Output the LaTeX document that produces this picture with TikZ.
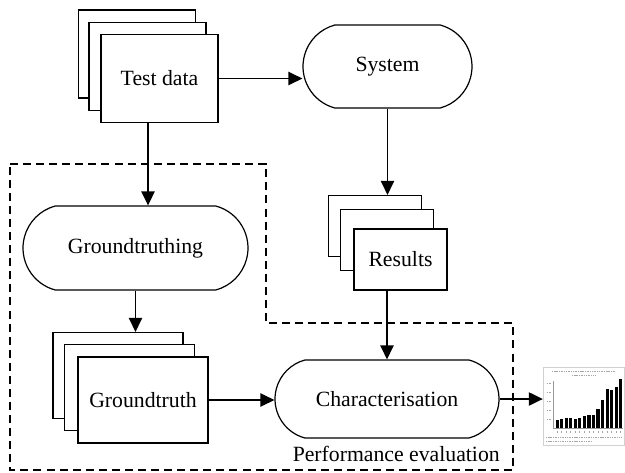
\documentclass[tikz,border=0pt]{standalone}
\usepackage{fontspec}
\setmainfont{Liberation Serif}
\usetikzlibrary{arrows.meta,calc,shapes.misc}

\begin{document}
\begin{tikzpicture}[x=0.75pt,y=-0.75pt,
  every node/.style={font=\fontsize{16.3}{19}\selectfont},
  docbox/.style={draw, fill=white, line width=0.9pt, inner sep=0pt},
  termbox/.style={draw, fill=white, line width=0.9pt, rounded rectangle, rounded rectangle arc length=150, inner sep=0pt},
  arr/.style={line width=0.95pt, -{Triangle[length=10.5pt,width=10pt]}},
  region/.style={line width=1.1pt, dash pattern=on 6pt off 3.8pt},
  ink/.style={gray!70, line width=0.45pt, dash pattern=on 0.8pt off 0.5pt}
]
\useasboundingbox (0,0) rectangle (625,472);

% Performance-evaluation region
\draw[region] (10,164) -- (266,164) -- (266,323) -- (513,323) -- (513,470) -- (10,470) -- cycle;
\node[anchor=base east, inner sep=0pt] (perf) at (500,461) {Performance evaluation};

% Test data stack
\tikzset{tdsize/.style={docbox, minimum width=87.75pt, minimum height=66pt}}
\node[tdsize] (tdA) at (137,54) {};
\node[tdsize] (tdB) at (147.5,66.5) {};
\node[tdsize] (td)  at (159.5,78.5) {Test data};

% System
\node[termbox, minimum width=126.75pt, minimum height=62.25pt] (sys) at (387.5,66.5) {System};

% Results stack
\tikzset{ressize/.style={docbox, minimum width=69.75pt, minimum height=45.75pt}}
\node[ressize] (resA) at (375,226) {};
\node[ressize] (resB) at (387,240) {};
\node[ressize] (res)  at (400.5,259.5) {Results};

% Groundtruthing
\node[termbox, minimum width=168.75pt, minimum height=63pt] (gtg) at (135.5,248) {Groundtruthing};

% Groundtruth stack
\tikzset{gtsize/.style={docbox, minimum width=97.5pt, minimum height=64.5pt}}
\node[gtsize] (gtA) at (118,375.5) {};
\node[gtsize] (gtB) at (129.5,387.5) {};
\node[gtsize] (gt)  at (143,400) {Groundtruth};

% Characterisation
\node[termbox, minimum width=168pt, minimum height=58.5pt] (chr) at (387,399) {Characterisation};

% Output chart thumbnail
\node[draw=gray!35, line width=0.3pt, fill=white, minimum width=60.75pt, minimum height=58.5pt, inner sep=0pt] (chart) at (583.5,406) {};
\begin{scope}
  % title
  \draw[ink] (552,371) -- (615,371);
  \draw[ink] (572,375) -- (595,375);
  % axes
  \draw[gray!80, line width=0.35pt] (553,381) -- (553,428) -- (623,428);
  \foreach \yy in {383,392,401,410,419} {
    \draw[ink] (547,\yy) -- (551,\yy);
  }
  % bars
  \foreach \h [count=\i from 0] in {7.7,9.3,10,10,9,10,12,13.3,13.3,19.3,27.7,38.7,37.7,41,48.7} {
    \fill[black] ({555.5+\i*4.55},428) rectangle ++(3.2,-\h);
    \draw[ink] ({557+\i*4.55},430.5) -- ++(0,2);
  }
  % source note
  \draw[ink] (546,437) -- (622,437);
  \draw[ink] (546,441) -- (592,441);
\end{scope}

% Connectors
\draw[arr] (td.east) -- (td.east -| sys.west);
\draw[arr] ([xshift=-8.6pt]td.south) -- ([xshift=-8.6pt]td.south |- gtg.north);
\draw[arr] (sys.south) -- (sys.south |- resA.north);
\draw[arr] (gtg.south) -- (gtg.south |- gtA.north);
\draw[arr] (gt.east) -- (gt.east -| chr.west);
\draw[arr] (chr.north |- res.south) -- (chr.north);
\draw[arr] (chr.east) -- (chr.east -| chart.west);
\end{tikzpicture}
\end{document}
